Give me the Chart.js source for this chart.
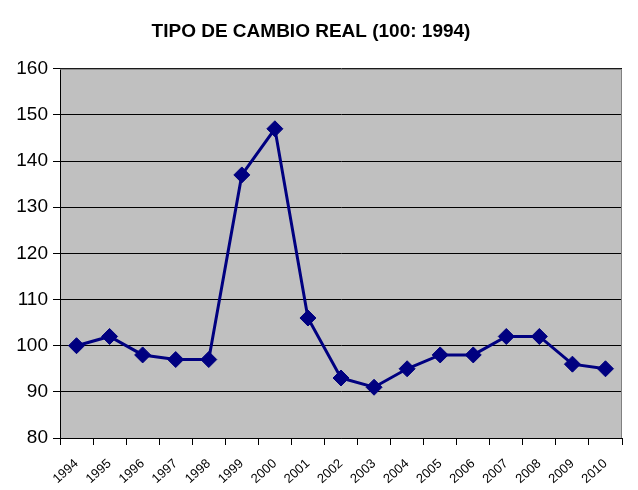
<!DOCTYPE html>
<html>
<head>
<meta charset="utf-8">
<script src="https://cdn.jsdelivr.net/npm/chart.js@4"></script>
<style>
  html, body { margin: 0; padding: 0; background: #fff; }
  #wrap { width: 638px; height: 490px; }
</style>
</head>
<body>
<div id="wrap"><canvas id="tcr-chart"></canvas></div>
<script>
const years = ['1994', '1995', '1996', '1997', '1998', '1999', '2000', '2001', '2002',
	'2003', '2004', '2005', '2006', '2007', '2008', '2009', '2010'];
const tcrValues = [100, 102, 98, 97, 97, 137, 147, 106, 93, 91, 95, 98, 98, 102, 102, 96, 95];
const yTicks = [80, 90, 100, 110, 120, 130, 140, 150, 160];

const narrow = '"Liberation Sans Narrow", "Arial Narrow", "Liberation Sans", sans-serif';

Chart.defaults.font.family = narrow;
Chart.defaults.color = '#000';

const plotBg = {
	id: 'plotBg',
	beforeDraw(chart) {
		const a = chart.chartArea;
		const ctx = chart.ctx;
		ctx.save();
		ctx.fillStyle = '#c0c0c0';
		ctx.fillRect(a.left, a.top, a.right - a.left, a.bottom - a.top);
		ctx.restore();
	},
	afterDraw(chart) {
		const a = chart.chartArea;
		const ctx = chart.ctx;
		ctx.save();
		ctx.strokeStyle = '#808080';
		ctx.lineWidth = 1;
		ctx.beginPath();
		ctx.moveTo(a.left, a.top + 0.5);
		ctx.lineTo(a.right - 0.5, a.top + 0.5);
		ctx.lineTo(a.right - 0.5, a.bottom);
		ctx.stroke();
		ctx.restore();
	}
};

const tcrChart = new Chart(document.getElementById('tcr-chart'), {
	type: 'line',
	data: {
		labels: years,
		datasets: [{
			data: tcrValues,
			borderColor: '#000080',
			backgroundColor: '#000080',
			borderWidth: 3,
			tension: 0,
			pointStyle: 'rectRot',
			pointRadius: 8,
			pointHoverRadius: 8,
			pointBorderWidth: 1
		}]
	},
	plugins: [plotBg],
	options: {
		responsive: true,
		maintainAspectRatio: false,
		animation: false,
		layout: { padding: { left: 0, right: 16, top: 0, bottom: 0 } },
		plugins: {
			legend: { display: false },
			tooltip: { enabled: false },
			title: {
				display: true,
				text: 'TIPO DE CAMBIO REAL (100: 1994)',
				color: '#000',
				font: { family: narrow, size: 19, weight: 'bold' },
				padding: { top: 20, bottom: 26 }
			}
		},
		scales: {
			x: {
				offset: true,
				grid: {
					offset: true,
					drawOnChartArea: false,
					color: '#000',
					tickLength: 7
				},
				border: { color: '#000', width: 1 },
				ticks: {
					minRotation: 42,
					maxRotation: 42,
					padding: 11,
					font: { size: 13 }
				},
				afterFit(scale) { scale.height = 52; }
			},
			y: {
				min: 80,
				max: 160,
				afterBuildTicks(scale) { scale.ticks = yTicks.map(v => ({ value: v })); },
				grid: { color: '#000', tickLength: 7 },
				border: { color: '#000', width: 1 },
				ticks: {
					padding: 5,
					font: { size: 19 }
				},
				afterFit(scale) { scale.width = 60; }
			}
		}
	}
});
</script>
</body>
</html>
